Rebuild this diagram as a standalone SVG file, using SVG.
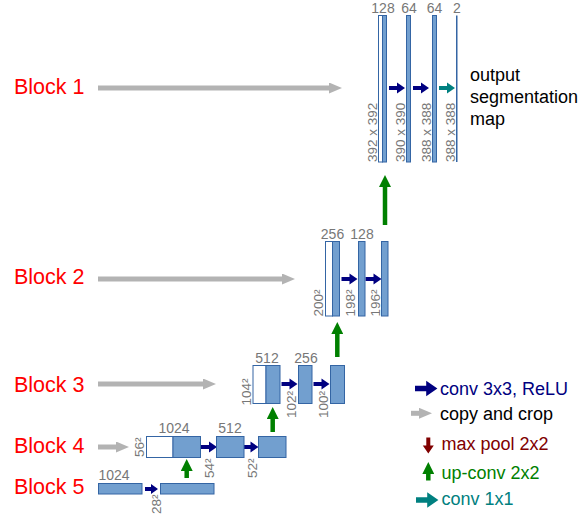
<svg xmlns="http://www.w3.org/2000/svg" xmlns:xlink="http://www.w3.org/1999/xlink" width="582" height="520" viewBox="0 0 582 520">
<style>
  .blk{font-family:"Liberation Sans",Arial,sans-serif;font-size:21.5px;fill:#ff0000}
  .num{font-family:"Liberation Sans",Arial,sans-serif;font-size:14px;fill:#777777}
  .vnum{font-family:"Liberation Sans",Arial,sans-serif;font-size:13.5px;fill:#777777}
  .fm{fill:#729fcf;stroke:#3465a4;stroke-width:1}
  .wh{fill:#ffffff;stroke:#3465a4;stroke-width:1}
  .copy{stroke:#b3b3b3;stroke-width:5;fill:none}
  .up{stroke:#008000;stroke-width:4.5;fill:none}
  .leg{font-family:"Liberation Sans",Arial,sans-serif;font-size:18px}
  .out{font-family:"Liberation Sans",Arial,sans-serif;font-size:18px;fill:#000000}
</style>
<defs>
  <marker id="grayHead" markerUnits="userSpaceOnUse" markerWidth="13" markerHeight="11" refX="0" refY="5.5" orient="auto">
    <path d="M0,0 L13,5.5 L0,11 Z" fill="#b3b3b3"/>
  </marker>
  <marker id="greenHead" markerUnits="userSpaceOnUse" markerWidth="12" markerHeight="12" refX="0" refY="6" orient="auto">
    <path d="M0,0 L12,6 L0,12 Z" fill="#008000"/>
  </marker>
  <path id="conv" d="M0,-2 H8 V-5.5 L16,0 L8,5.5 V2 H0 Z"/>
  <path id="convS" d="M0,-2 H6 V-5 L13,0 L6,5 V2 H0 Z"/>
  <path id="down" d="M-2,-8 V0 H-5.5 L0,8 L5.5,0 H2 V-8 Z"/>
</defs>

<g id="labels">
  <text class="blk" x="14" y="94">Block 1</text>
  <text class="blk" x="14" y="284">Block 2</text>
  <text class="blk" x="14" y="392">Block 3</text>
  <text class="blk" x="14" y="453">Block 4</text>
  <text class="blk" x="14" y="494">Block 5</text>
</g>

<g id="connectors">
  <line class="copy" x1="98" y1="88" x2="329" y2="88" marker-end="url(#grayHead)"/>
  <line class="copy" x1="98" y1="279" x2="282" y2="279" marker-end="url(#grayHead)"/>
  <line class="copy" x1="98" y1="384" x2="203" y2="384" marker-end="url(#grayHead)"/>
  <line class="copy" x1="98" y1="447" x2="116" y2="447" marker-end="url(#grayHead)"/>

  <line class="up" x1="385" y1="225" x2="385" y2="187" marker-end="url(#greenHead)"/>
  <line class="up" x1="337.3" y1="357" x2="337.3" y2="334" marker-end="url(#greenHead)"/>
  <line class="up" x1="272.7" y1="432" x2="272.7" y2="419" marker-end="url(#greenHead)"/>
  <line class="up" x1="186.7" y1="478" x2="186.7" y2="471" marker-end="url(#greenHead)"/>

  <use href="#conv" x="389" y="88" fill="#000080"/>
  <use href="#conv" x="413" y="88" fill="#000080"/>
  <use href="#conv" x="439" y="88" fill="#008080"/>
  <use href="#conv" x="341.5" y="279" fill="#000080"/>
  <use href="#conv" x="365.5" y="279" fill="#000080"/>
  <use href="#conv" x="281.5" y="384" fill="#000080"/>
  <use href="#conv" x="313.5" y="384" fill="#000080"/>
  <use href="#conv" x="201" y="447" fill="#000080"/>
  <use href="#conv" x="242.5" y="447" fill="#000080"/>
  <use href="#convS" x="145" y="489" fill="#000080"/>
</g>

<g id="block1">
  <rect class="wh" x="378.5" y="15.5" width="4" height="146.5"/>
  <rect class="fm" x="382.5" y="15.5" width="4" height="146.5"/>
  <rect class="fm" x="406.5" y="15.5" width="4" height="146.5"/>
  <rect class="fm" x="432.5" y="15.5" width="4" height="146.5"/>
  <rect x="456" y="15.5" width="1.5" height="146.5" fill="#3465a4"/>
  <text class="num" x="383" y="13" text-anchor="middle">128</text>
  <text class="num" x="409" y="13" text-anchor="middle">64</text>
  <text class="num" x="434.5" y="13" text-anchor="middle">64</text>
  <text class="num" x="457" y="13" text-anchor="middle">2</text>
  <text class="vnum" transform="translate(376.5,162) rotate(-90)">392 x 392</text>
  <text class="vnum" transform="translate(405,162) rotate(-90)">390 x 390</text>
  <text class="vnum" transform="translate(431,162) rotate(-90)">388 x 388</text>
  <text class="vnum" transform="translate(454.5,162) rotate(-90)">388 x 388</text>
  <text class="out" x="470" y="81">output</text>
  <text class="out" x="470" y="103">segmentation</text>
  <text class="out" x="470" y="124.5">map</text>
</g>

<g id="block2">
  <rect class="wh" x="325.5" y="241.5" width="7" height="74.5"/>
  <rect class="fm" x="332.5" y="241.5" width="7" height="74.5"/>
  <rect class="fm" x="358.5" y="241.5" width="6.5" height="74.5"/>
  <rect class="fm" x="381.5" y="241.5" width="6.5" height="74.5"/>
  <text class="num" x="332.5" y="238.5" text-anchor="middle">256</text>
  <text class="num" x="362" y="238.5" text-anchor="middle">128</text>
  <text class="vnum" transform="translate(322.5,316.5) rotate(-90)">200²</text>
  <text class="vnum" transform="translate(354.5,316.5) rotate(-90)">198²</text>
  <text class="vnum" transform="translate(379.5,316.5) rotate(-90)">196²</text>
</g>

<g id="block3">
  <rect class="wh" x="253" y="365.5" width="13" height="38"/>
  <rect class="fm" x="266" y="365.5" width="14" height="38"/>
  <rect class="fm" x="298.5" y="365.5" width="13.5" height="38"/>
  <rect class="fm" x="330.5" y="365.5" width="14" height="38"/>
  <text class="num" x="267" y="362.5" text-anchor="middle">512</text>
  <text class="num" x="306" y="362.5" text-anchor="middle">256</text>
  <text class="vnum" transform="translate(251,405.5) rotate(-90)">104²</text>
  <text class="vnum" transform="translate(296,418) rotate(-90)">102²</text>
  <text class="vnum" transform="translate(327.5,418) rotate(-90)">100²</text>
</g>

<g id="block4">
  <rect class="wh" x="146.5" y="436.5" width="26.5" height="21"/>
  <rect class="fm" x="173" y="436.5" width="27.5" height="21"/>
  <rect class="fm" x="216.5" y="436.5" width="27.5" height="21"/>
  <rect class="fm" x="258.5" y="436.5" width="27.5" height="21"/>
  <text class="num" x="174" y="432.5" text-anchor="middle">1024</text>
  <text class="num" x="230" y="432.5" text-anchor="middle">512</text>
  <text class="vnum" transform="translate(144,457) rotate(-90)">56²</text>
  <text class="vnum" transform="translate(213.5,478) rotate(-90)">54²</text>
  <text class="vnum" transform="translate(257,478) rotate(-90)">52²</text>
</g>

<g id="block5">
  <rect class="fm" x="98.5" y="483.5" width="43.5" height="10.5"/>
  <rect class="fm" x="160.5" y="483.5" width="53.5" height="10.5"/>
  <text class="num" x="98.5" y="480">1024</text>
  <text class="vnum" transform="translate(161,514) rotate(-90)">28²</text>
</g>

<g id="legend">
  <use href="#conv" x="415" y="388.5" fill="#000080" transform="translate(415,388.5) scale(1.4) translate(-415,-388.5)"/>
  <text class="leg" x="440" y="395" fill="#000080">conv 3x3, ReLU</text>
  <line class="copy" x1="411" y1="413.3" x2="419" y2="413.3" marker-end="url(#grayHead)"/>
  <text class="leg" x="440" y="419.5" fill="#000000">copy and crop</text>
  <use href="#down" x="428.3" y="445.5" fill="#800000"/>
  <text class="leg" x="441.5" y="450" fill="#800000">max pool 2x2</text>
  <line class="up" x1="428.3" y1="480.5" x2="428.3" y2="474" marker-end="url(#greenHead)"/>
  <text class="leg" x="441.5" y="478.5" fill="#008000">up-conv 2x2</text>
  <use href="#conv" x="416" y="500" fill="#008080" transform="translate(416,500) scale(1.4) translate(-416,-500)"/>
  <text class="leg" x="441.5" y="505" fill="#008080">conv 1x1</text>
</g>
</svg>
